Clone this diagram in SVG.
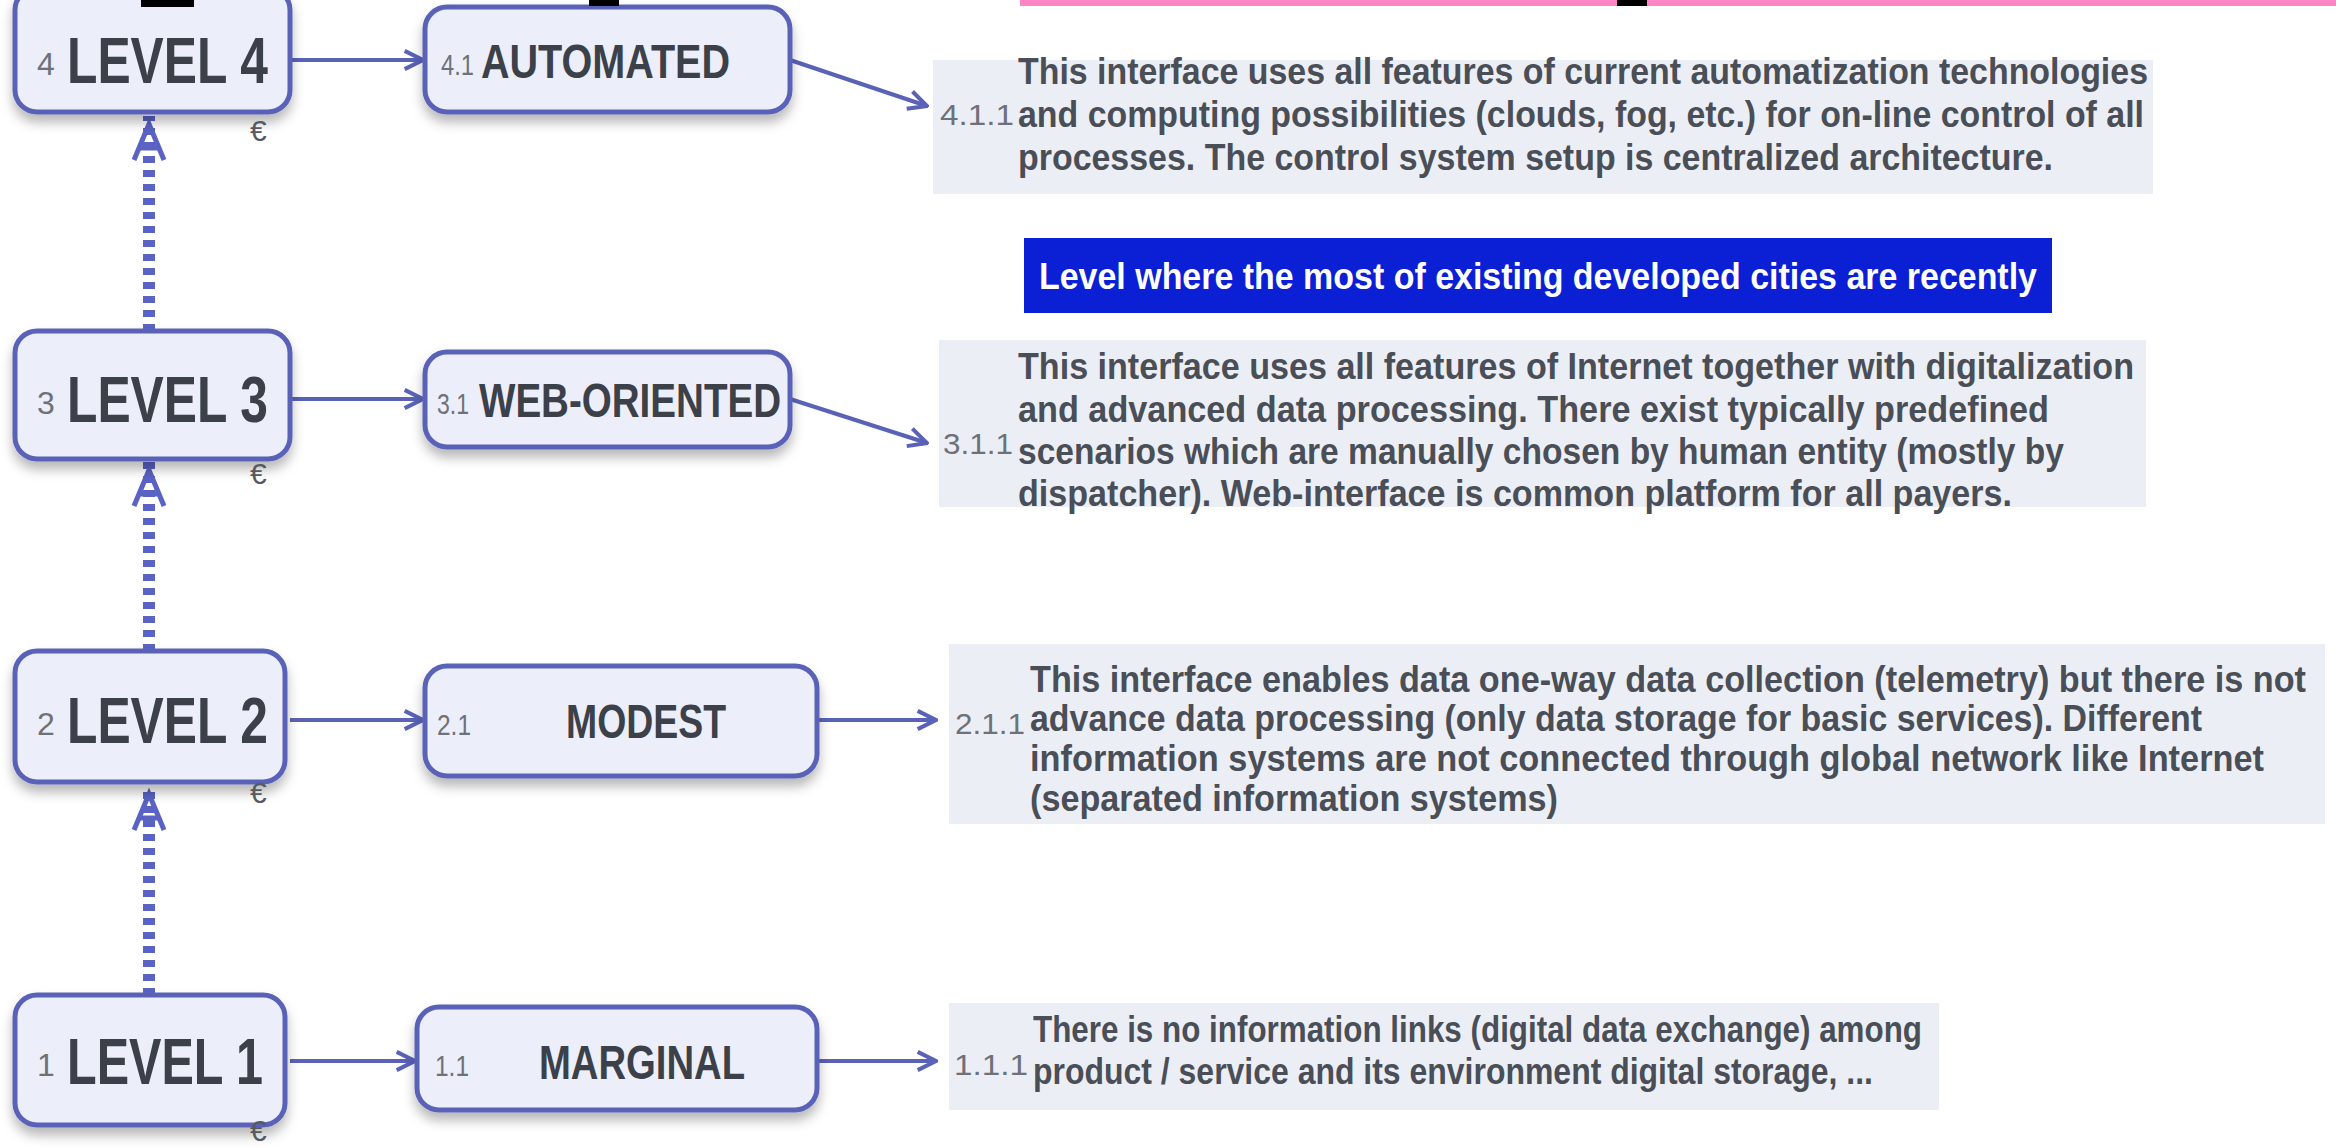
<svg xmlns="http://www.w3.org/2000/svg" width="2336" height="1148" viewBox="0 0 2336 1148">
  <defs>
    <filter id="shadow" x="-10%" y="-20%" width="120%" height="150%">
      <feDropShadow dx="0" dy="8" stdDeviation="6" flood-color="#000" flood-opacity="0.28"/>
    </filter>
    <marker id="chev" viewBox="0 0 12 12" refX="11" refY="6" markerWidth="22" markerHeight="22" markerUnits="userSpaceOnUse" orient="auto">
      <path d="M1,1 L11,6 L1,11" fill="none" stroke="#5a62b8" stroke-width="2.2" stroke-linejoin="miter"/>
    </marker>
    <style>
      .box { fill: #eceefa; stroke: #5a62b8; stroke-width: 5; filter: url(#shadow); }
      .desc { fill: #eceef6; }
      .lvl { font-family: "Liberation Sans", Arial, sans-serif; font-weight: bold; font-size: 65px; fill: #3b4049; }
      .sub { font-family: "Liberation Sans", Arial, sans-serif; font-weight: bold; font-size: 48px; fill: #3b4049; }
      .num { font-family: "Liberation Sans", Arial, sans-serif; font-size: 32px; fill: #6e7278; }
      .dnum { font-family: "Liberation Sans", Arial, sans-serif; font-size: 30px; fill: #6e7278; }
      .txt { font-family: "Liberation Sans", Arial, sans-serif; font-weight: bold; font-size: 36px; fill: #4a4e56; }
      .ban { font-family: "Liberation Sans", Arial, sans-serif; font-weight: bold; font-size: 36px; fill: #ffffff; }
      .eur { font-family: "Liberation Sans", Arial, sans-serif; font-size: 30px; fill: #555a60; }
      .link { fill: none; stroke: #5a62b8; stroke-width: 4; marker-end: url(#chev); }
      .dash { fill: none; stroke: #5a62c4; stroke-width: 12; stroke-dasharray: 7 7; }
      .head { fill: none; stroke: #5a62c4; stroke-width: 5; stroke-linejoin: miter; }
    </style>
  </defs>

  <rect width="2336" height="1148" fill="#ffffff"/>

  <!-- connectors -->
  <g id="connectors">
    <line class="link" x1="290" y1="60" x2="423" y2="60"/>
    <line class="link" x1="290" y1="399" x2="423" y2="399"/>
    <line class="link" x1="290" y1="720" x2="423" y2="720"/>
    <line class="link" x1="290" y1="1061" x2="415" y2="1061"/>

    <line class="link" x1="790" y1="60" x2="927" y2="106"/>
    <line class="link" x1="790" y1="399" x2="927" y2="443"/>
    <line class="link" x1="817" y1="720" x2="936" y2="720"/>
    <line class="link" x1="817" y1="1061" x2="936" y2="1061"/>

    <!-- dashed level-up links -->
    <line class="dash" x1="149" y1="331" x2="149" y2="116"/>
    <polyline class="head" points="134,160 149,124 164,160"/>
    <line class="head" x1="139" y1="148" x2="159" y2="148"/>

    <line class="dash" x1="149" y1="651" x2="149" y2="462"/>
    <polyline class="head" points="134,506 149,470 164,506"/>
    <line class="head" x1="139" y1="494" x2="159" y2="494"/>

    <line class="dash" x1="149" y1="995" x2="149" y2="786"/>
    <polyline class="head" points="134,830 149,794 164,830"/>
    <line class="head" x1="139" y1="818" x2="159" y2="818"/>
  </g>

  <!-- level nodes -->
  <g id="level4">
    <rect class="box" x="15" y="-12" width="275" height="124" rx="22"/>
    <text class="num" x="37" y="75">4</text>
    <text class="lvl" x="67" y="83" textLength="201" lengthAdjust="spacingAndGlyphs">LEVEL 4</text>
    <text class="eur" x="250" y="141">€</text>
  </g>
  <g id="level3">
    <rect class="box" x="15" y="331" width="275" height="128" rx="22"/>
    <text class="num" x="37" y="414">3</text>
    <text class="lvl" x="67" y="422" textLength="201" lengthAdjust="spacingAndGlyphs">LEVEL 3</text>
    <text class="eur" x="250" y="484">€</text>
  </g>
  <g id="level2">
    <rect class="box" x="15" y="651" width="270" height="131" rx="22"/>
    <text class="num" x="37" y="735">2</text>
    <text class="lvl" x="67" y="743" textLength="201" lengthAdjust="spacingAndGlyphs">LEVEL 2</text>
    <text class="eur" x="250" y="803">€</text>
  </g>
  <g id="level1">
    <rect class="box" x="15" y="995" width="270" height="130" rx="22"/>
    <text class="num" x="37" y="1076">1</text>
    <text class="lvl" x="67" y="1084" textLength="196" lengthAdjust="spacingAndGlyphs">LEVEL 1</text>
    <text class="eur" x="250" y="1141">€</text>
  </g>

  <!-- type nodes -->
  <g id="automated">
    <rect class="box" x="425" y="7" width="365" height="105" rx="22"/>
    <text class="dnum" x="441" y="75" textLength="33" lengthAdjust="spacingAndGlyphs">4.1</text>
    <text class="sub" x="481" y="78" textLength="249" lengthAdjust="spacingAndGlyphs">AUTOMATED</text>
  </g>
  <g id="web-oriented">
    <rect class="box" x="425" y="352" width="365" height="95" rx="22"/>
    <text class="dnum" x="437" y="414" textLength="32" lengthAdjust="spacingAndGlyphs">3.1</text>
    <text class="sub" x="479" y="417" textLength="302" lengthAdjust="spacingAndGlyphs">WEB-ORIENTED</text>
  </g>
  <g id="modest">
    <rect class="box" x="425" y="666" width="392" height="110" rx="22"/>
    <text class="dnum" x="437" y="735" textLength="34" lengthAdjust="spacingAndGlyphs">2.1</text>
    <text class="sub" x="566" y="738" textLength="160" lengthAdjust="spacingAndGlyphs">MODEST</text>
  </g>
  <g id="marginal">
    <rect class="box" x="417" y="1007" width="400" height="103" rx="22"/>
    <text class="dnum" x="435" y="1076" textLength="34" lengthAdjust="spacingAndGlyphs">1.1</text>
    <text class="sub" x="539" y="1079" textLength="206" lengthAdjust="spacingAndGlyphs">MARGINAL</text>
  </g>

  <!-- descriptions -->
  <g id="desc4">
    <rect class="desc" x="933" y="60" width="1220" height="134"/>
    <text class="dnum" x="940" y="125" textLength="74" lengthAdjust="spacingAndGlyphs">4.1.1</text>
    <text class="txt" x="1018" y="84" textLength="1130" lengthAdjust="spacingAndGlyphs">This interface uses all features of current automatization technologies</text>
    <text class="txt" x="1018" y="127" textLength="1126" lengthAdjust="spacingAndGlyphs">and computing possibilities (clouds, fog, etc.) for on-line control of all</text>
    <text class="txt" x="1018" y="170" textLength="1035" lengthAdjust="spacingAndGlyphs">processes. The control system setup is centralized architecture.</text>
  </g>

  <g id="banner">
    <rect x="1024" y="238" width="1028" height="75" fill="#0b1fd4"/>
    <text class="ban" x="1039" y="289" textLength="998" lengthAdjust="spacingAndGlyphs">Level where the most of existing developed cities are recently</text>
  </g>

  <g id="desc3">
    <rect class="desc" x="939" y="340" width="1207" height="167"/>
    <text class="dnum" x="943" y="454" textLength="70" lengthAdjust="spacingAndGlyphs">3.1.1</text>
    <text class="txt" x="1018" y="379" textLength="1116" lengthAdjust="spacingAndGlyphs">This interface uses all features of Internet together with digitalization</text>
    <text class="txt" x="1018" y="422" textLength="1031" lengthAdjust="spacingAndGlyphs">and advanced data processing. There exist typically predefined</text>
    <text class="txt" x="1018" y="464" textLength="1046" lengthAdjust="spacingAndGlyphs">scenarios which are manually chosen by human entity (mostly by</text>
    <text class="txt" x="1018" y="506" textLength="994" lengthAdjust="spacingAndGlyphs">dispatcher). Web-interface is common platform for all payers.</text>
  </g>

  <g id="desc2">
    <rect class="desc" x="949" y="644" width="1376" height="180"/>
    <text class="dnum" x="955" y="734" textLength="70" lengthAdjust="spacingAndGlyphs">2.1.1</text>
    <text class="txt" x="1030" y="692" textLength="1276" lengthAdjust="spacingAndGlyphs">This interface enables data one-way data collection (telemetry) but there is not</text>
    <text class="txt" x="1030" y="731" textLength="1172" lengthAdjust="spacingAndGlyphs">advance data processing (only data storage for basic services). Different</text>
    <text class="txt" x="1030" y="771" textLength="1234" lengthAdjust="spacingAndGlyphs">information systems are not connected through global network like Internet</text>
    <text class="txt" x="1030" y="811" textLength="528" lengthAdjust="spacingAndGlyphs">(separated information systems)</text>
  </g>

  <g id="desc1">
    <rect class="desc" x="949" y="1003" width="990" height="107"/>
    <text class="dnum" x="954" y="1075" textLength="74" lengthAdjust="spacingAndGlyphs">1.1.1</text>
    <text class="txt" x="1033" y="1042" textLength="889" lengthAdjust="spacingAndGlyphs">There is no information links (digital data exchange) among</text>
    <text class="txt" x="1033" y="1084" textLength="840" lengthAdjust="spacingAndGlyphs">product / service and its environment digital storage, ...</text>
  </g>

  <!-- cut-off title strip along the top edge, drawn over the nodes -->
  <rect x="1020" y="0" width="1316" height="6" fill="#ff86c4"/>
  <rect x="141" y="0" width="53" height="7" fill="#000"/>
  <rect x="589" y="0" width="30" height="6" fill="#000"/>
  <rect x="1617" y="0" width="30" height="6" fill="#000"/>
</svg>
